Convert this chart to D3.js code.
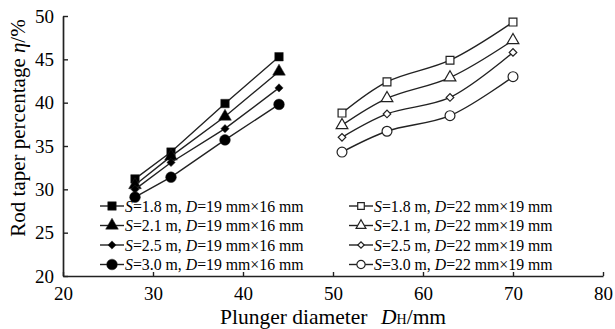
<!DOCTYPE html>
<html><head><meta charset="utf-8">
<script src="https://cdn.jsdelivr.net/npm/d3@7"></script>
<style>body{margin:0;background:#fff}svg{display:block}text{font-family:"Liberation Serif","Times New Roman",serif;fill:#000}</style>
</head><body><svg id="c" width="615" height="329"></svg>
<script>
const xLeft = [28, 32, 38, 44];
const xRight = [51, 56, 63, 70];
const seriesNames = ["S=1.8 m", "S=2.1 m", "S=2.5 m", "S=3.0 m"];
const symbols = ["square", "triangle", "diamond", "circle"];
const left_S18 = [31.2, 34.3, 39.9, 45.3];
const left_S21 = [30.5, 33.8, 38.4, 43.6];
const left_S25 = [30.0, 33.1, 37.0, 41.7];
const left_S30 = [29.1, 31.4, 35.7, 39.8];
const right_S18 = [38.8, 42.4, 44.9, 49.3];
const right_S21 = [37.4, 40.5, 42.9, 47.2];
const right_S25 = [36.0, 38.7, 40.6, 45.8];
const right_S30 = [34.3, 36.7, 38.5, 43.0];
const xTicks = [20, 30, 40, 50, 60, 70, 80];
const yTicks = [20, 25, 30, 35, 40, 45, 50];
const leftD = "19 mm×16 mm", rightD = "22 mm×19 mm";

const svg = d3.select("#c");
const x = d3.scaleLinear().domain([20, 80]).range([63, 603]);
const y = d3.scaleLinear().domain([20, 50]).range([276, 16]);

// axes
const xa = svg.append("g").attr("transform", "translate(0,276)")
  .call(d3.axisBottom(x).tickValues(xTicks).tickSize(-4).tickPadding(9).tickSizeOuter(0));
const ya = svg.append("g").attr("transform", "translate(63,0)")
  .call(d3.axisLeft(y).tickValues(yTicks).tickSize(-5).tickPadding(9).tickSizeOuter(0));
[xa, ya].forEach(a => {
  a.select(".domain").attr("stroke", "#222").attr("stroke-width", 1.7);
  a.selectAll(".tick line").attr("stroke", "#222").attr("stroke-width", 1.4);
  a.selectAll(".tick text").style("font-size", "19px").attr("fill", "#000");
});
xa.selectAll(".tick text").attr("dy", null).attr("y", 23.5);

// axis titles
const yt = svg.append("text").attr("transform", "translate(25,128) rotate(-90)")
  .attr("text-anchor", "middle").style("font-size", "21px");
yt.append("tspan").text("Rod taper percentage ");
yt.append("tspan").style("font-style", "italic").text("η");
yt.append("tspan").text("/%");
const xt = svg.append("text").attr("x", 220).attr("y", 323.5).style("font-size", "21.5px");
xt.append("tspan").text("Plunger diameter");
xt.append("tspan").attr("x", 381).style("font-style", "italic").text("D");
xt.append("tspan").style("font-size", "14px").text("H");
xt.append("tspan").text("/mm");

const leftData = [left_S18, left_S21, left_S25, left_S30];
const rightData = [right_S18, right_S21, right_S25, right_S30];
const symType = {square: d3.symbolSquare, triangle: d3.symbolTriangle, diamond: d3.symbolSquare, circle: d3.symbolCircle};
const symSize = {square: 72, triangle: 70, diamond: 34, circle: 90};

function marker(g, t, filled, cx, cy, scale) {
  g.append("path").attr("d", d3.symbol().type(symType[t]).size(symSize[t] * (scale || 1))())
    .attr("transform", `translate(${cx},${cy})` + (t === "diamond" ? " rotate(45)" : ""))
    .attr("fill", filled ? "#000" : "#fff").attr("stroke", "#222").attr("stroke-width", filled ? 0.5 : 1.2);
}

const lineStraight = d3.line().x(d => x(d[0])).y(d => y(d[1]));
const lineSmooth = d3.line().x(d => x(d[0])).y(d => y(d[1])).curve(d3.curveCatmullRom.alpha(0.5));

leftData.forEach((vals, i) => {
  const pts = xLeft.map((v, j) => [v, vals[j]]);
  svg.append("path").attr("d", lineStraight(pts)).attr("fill", "none").attr("stroke", "#222").attr("stroke-width", 1.4);
  pts.forEach(p => marker(svg, symbols[i], true, x(p[0]), y(p[1])));
});
rightData.forEach((vals, i) => {
  const pts = xRight.map((v, j) => [v, vals[j]]);
  svg.append("path").attr("d", lineSmooth(pts)).attr("fill", "none").attr("stroke", "#222").attr("stroke-width", 1.4);
  pts.forEach(p => marker(svg, symbols[i], false, x(p[0]), y(p[1]), 0.85));
});

// legends
const rowsY = [206, 225.5, 245, 264.5];
function legend(x0, filled, dtxt) {
  seriesNames.forEach((n, i) => {
    const g = svg.append("g");
    g.append("line").attr("x1", x0).attr("x2", x0 + 24).attr("y1", rowsY[i]).attr("y2", rowsY[i]).attr("stroke", "#222").attr("stroke-width", 1.4);
    marker(g, symbols[i], filled, x0 + 12, rowsY[i], filled ? 1 : 0.6);
    const t = g.append("text").attr("x", x0 + 25).attr("y", rowsY[i] + 5.5).style("font-size", "15.8px");
    t.append("tspan").style("font-style", "italic").text("S");
    t.append("tspan").text(n.slice(1) + ", ");
    t.append("tspan").style("font-style", "italic").text("D");
    t.append("tspan").text("=" + dtxt);
  });
}
legend(100, true, leftD);
legend(349, false, rightD);
</script></body></html>
